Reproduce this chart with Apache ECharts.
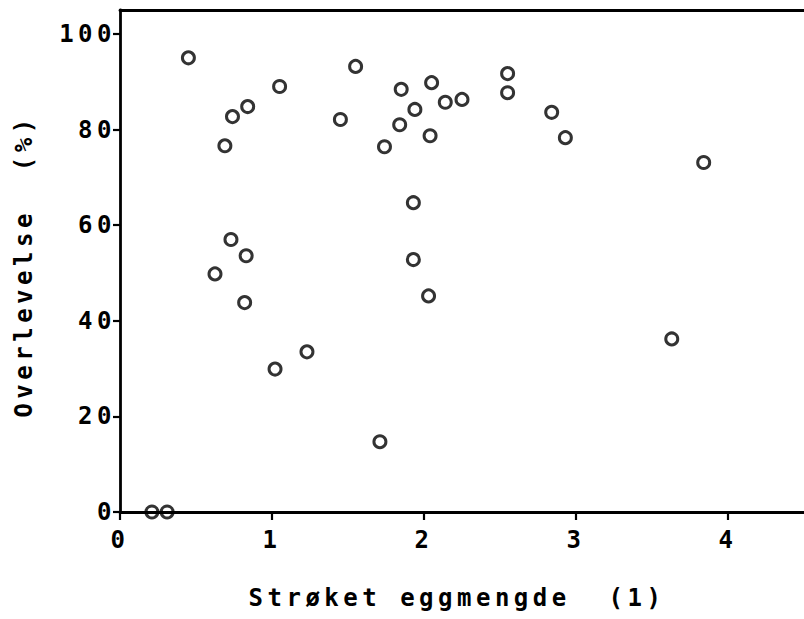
<!DOCTYPE html>
<html>
<head>
<meta charset="utf-8">
<script src="https://cdn.jsdelivr.net/npm/echarts@6/dist/echarts.min.js"></script>
<style>
  html, body { margin: 0; padding: 0; background: #fff; }
  #chart { width: 804px; height: 619px; }
  /* plotter-style lettering is widely spaced */
  #chart text { letter-spacing: 4.5px; }
</style>
</head>
<body>
<div id="chart"></div>
<script>
// Stroked egg amount (l) against survival (%)
const eggAmount = [
  0.45, 1.05, 0.84, 0.74, 0.69, 0.73, 0.83, 0.625, 0.82, 1.02, 0.21,
  0.31, 1.55, 1.45, 1.85, 2.05, 1.94, 1.84, 1.74, 2.04, 2.14, 2.25,
  2.55, 2.55, 2.84, 2.93, 3.84, 1.93, 1.93, 2.03, 1.23, 1.71, 3.63
];
const survival = [
  95, 89, 84.8, 82.7, 76.6, 57, 53.6, 49.8, 43.8, 29.9, 0,
  0, 93.2, 82.1, 88.4, 89.8, 84.2, 81, 76.4, 78.7, 85.7, 86.3,
  91.7, 87.7, 83.6, 78.3, 73.1, 64.7, 52.8, 45.2, 33.5, 14.7, 36.2
];
const xTicks = [0, 1, 2, 3, 4];
const yTicks = [0, 20, 40, 60, 80, 100];

const points = eggAmount.map((x, i) => [x, survival[i]]);

const font = '"DejaVu Sans Mono", "Liberation Mono", monospace';
const ink = '#000';

const chart = echarts.init(document.getElementById('chart'), null, { renderer: 'svg' });
chart.setOption({
  backgroundColor: '#fff',
  animation: false,
  grid: { left: 120, right: 0, top: 10, bottom: 107 },
  xAxis: [
    {
      type: 'value',
      min: 0, max: 4.5, interval: 1,
      position: 'bottom',
      name: 'Strøket eggmengde  (1)',
      nameLocation: 'middle',
      nameGap: 74,
      nameTextStyle: { color: ink, fontFamily: font, fontSize: 24, fontWeight: 'bold', padding: [0, 10, 0, 0] },
      axisLine: { show: true, onZero: false, lineStyle: { color: ink, width: 2.8 } },
      axisTick: { show: true, length: 8, customValues: xTicks, lineStyle: { color: ink, width: 2.2 } },
      axisLabel: {
        color: ink, fontFamily: font, fontSize: 24, fontWeight: 'bold', margin: 16,
        customValues: xTicks
      },
      splitLine: { show: false }
    },
    {
      type: 'value',
      min: 0, max: 4.5,
      position: 'top',
      axisLine: { show: true, onZero: false, lineStyle: { color: ink, width: 2.8 } },
      axisTick: { show: false },
      axisLabel: { show: false },
      splitLine: { show: false }
    }
  ],
  yAxis: {
    type: 'value',
    min: 0, max: 105, interval: 20,
    name: 'Overlevelse  (%)',
    nameLocation: 'middle',
    nameGap: 84,
    nameTextStyle: { color: ink, fontFamily: font, fontSize: 24, fontWeight: 'bold', padding: [0, 10, 0, 0] },
    axisLine: { show: true, onZero: false, lineStyle: { color: ink, width: 2.8 } },
    axisTick: { show: true, length: 7, customValues: yTicks, lineStyle: { color: ink, width: 2.2 } },
    axisLabel: {
      color: ink, fontFamily: font, fontSize: 24, fontWeight: 'bold', margin: 4,
      padding: [8, 0, 0, 0],
      customValues: yTicks
    },
    splitLine: { show: false }
  },
  series: [{
    type: 'scatter',
    xAxisIndex: 0,
    data: points,
    symbol: 'circle',
    symbolSize: 12,
    clip: false,
    itemStyle: { color: 'rgba(0,0,0,0)', borderColor: ink, borderWidth: 3 }
  }]
});
</script>
</body>
</html>
